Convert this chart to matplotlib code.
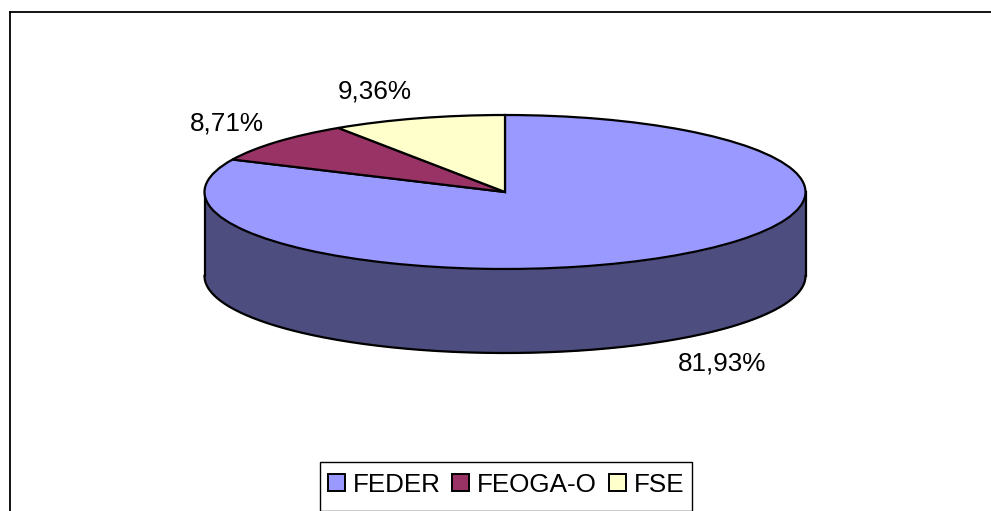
import numpy as np
import matplotlib
matplotlib.use("Agg")
import matplotlib.pyplot as plt
from matplotlib.lines import Line2D
from matplotlib.patches import Rectangle

labels = ["FEDER", "FEOGA-O", "FSE"]
values = [81.93, 8.71, 9.36]
colors = ["#9999FF", "#993366", "#FFFFCC"]
wall_color = "#4D4D80"

plt.rcParams['font.family'] = ['Liberation Sans', 'DejaVu Sans']
W, H = 991, 511
cx, cy, rx, ry = 505, 192, 300.5, 77
depth = 84 / ry
edge = 1.6


def px(x, y):
    # picture pixels to data units of the squashed pie
    return (x - cx) / rx, (cy - y) / ry


fig = plt.figure(figsize=(W / 100, H / 100), dpi=100)
ax = fig.add_axes([0, 0, 1, 1])

wedges, _ = ax.pie(values, colors=colors, startangle=90, counterclock=False,
                   wedgeprops=dict(edgecolor="black", linewidth=edge, zorder=3))
ax.set_aspect("auto")
ax.set_xlim(px(0, 0)[0], px(W, 0)[0])
ax.set_ylim(px(0, H)[1], px(0, 0)[1])
ax.axis("off")

# side wall of the 3D pie
t = np.linspace(np.pi, 2 * np.pi, 300)
ax.fill_between(np.cos(t), np.sin(t), np.sin(t) - depth, color=wall_color, zorder=1, lw=0)
ax.plot(np.cos(t), np.sin(t) - depth, color="black", lw=edge, zorder=2)
ax.plot([-1, -1], [0, -depth], color="black", lw=edge, zorder=2)
ax.plot([1, 1], [0, -depth], color="black", lw=edge, zorder=2)

label_pos = [(722, 364), (227, 123), (375, 92)]
for v, (x, y) in zip(values, label_pos):
    tx, ty = px(x, y)
    ax.text(tx, ty, f"{v:.2f}".replace(".", ",") + "%", fontsize=18.8,
            ha="center", va="center", color="black", zorder=5)

# chart area border, cut off by the picture on the right and at the bottom
fig.add_artist(Line2D([9.5 / W, 9.5 / W], [0, 1 - 12 / H], color="black", lw=1.3))
fig.add_artist(Line2D([9.5 / W, 1], [1 - 12 / H, 1 - 12 / H], color="black", lw=1.3))

# legend box drawn apart so its height does not follow the text padding
ax.add_patch(Rectangle((319.5 / W, 1 - 510.5 / H), 372 / W, 49 / H, transform=fig.transFigure,
                       facecolor="white", edgecolor="black", lw=1, zorder=4, clip_on=False))
leg = ax.legend(wedges, labels, ncol=3, loc="center", frameon=False,
                bbox_to_anchor=(506 / W, 1 - 484.5 / H), bbox_transform=fig.transFigure,
                fontsize=18.7, handlelength=0.66, handleheight=0.66, handletextpad=0.3,
                columnspacing=0.45, borderpad=0.4)
leg.set_zorder(6)
for h in leg.legend_handles:
    h.set_edgecolor("black")
    h.set_linewidth(1.4)

fig.savefig("out.png", dpi=100)
